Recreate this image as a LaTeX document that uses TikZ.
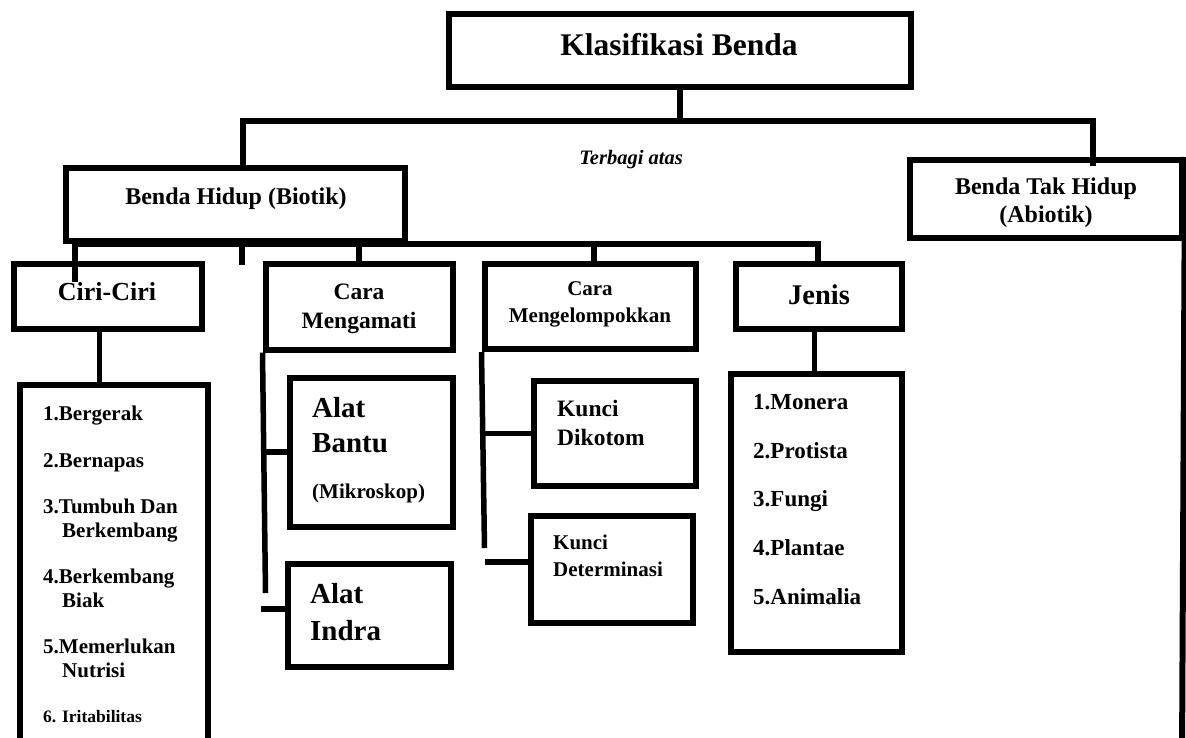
\documentclass[tikz,border=0pt]{standalone}
\usepackage{fontspec}
\setmainfont{Liberation Serif}
\newcommand{\fsz}[2]{\fontsize{#1}{#2}\selectfont}

\begin{document}
\begin{tikzpicture}[
  x=1pt, y=-1pt,
  box/.style={draw, line width=6pt, inner sep=0pt},
  wire/.style={line width=5.5pt},
  txt/.style={inner sep=0pt, align=left},
  ctr/.style={inner sep=0pt, align=center}
]
\useasboundingbox (0,0) rectangle (1186,737);
\fill[white] (0,0) rectangle (1186,737);
\clip (0,0) rectangle (1186,737);

% ====================== KLASIFIKASI ======================
\node[box, minimum width=462, minimum height=73] (title) at (680,50) {};
\node[ctr, font=\bfseries\fsz{31.5}{36}] (t-title) at (679,45) {Klasifikasi Benda};
\node[ctr, font=\bfseries\itshape\fsz{20.5}{24}] (t-bagi) at (631,160) {Terbagi atas};

% ====================== BIOTIK / ABIOTIK ======================
\node[box, minimum width=339, minimum height=73] (biotik) at (235.5,204.5) {};
\node[ctr, font=\bfseries\fsz{24}{28}] (t-biotik) at (236,199) {Benda Hidup (Biotik)};
\node[box, minimum width=272, minimum height=77.5] (abiotik) at (1046,198.75) {};
\node[ctr, font=\bfseries\fsz{24}{28}] (t-abiotik) at (1046,203) {Benda Tak Hidup\\(Abiotik)};

% ====================== CIRI-CIRI ======================
\node[box, minimum width=187.5, minimum height=65] (ciri) at (107.75,296.5) {};
\node[ctr, font=\bfseries\fsz{26}{30}] (t-ciri) at (107,292) {Ciri-Ciri};
\node[box, minimum width=187.5, minimum height=375] (ciriList) at (113.75,572.5) {};
\node[txt, anchor=north west, font=\bfseries\fsz{21}{24}] (t-ciriList) at (43,405.5)
  {1.Bergerak\\[23pt]2.Bernapas\\[22pt]3.Tumbuh Dan\\\hspace*{19pt}Berkembang\\[22pt]%
   4.Berkembang\\\hspace*{19pt}Biak\\[22pt]5.Memerlukan\\\hspace*{19pt}Nutrisi\\[21pt]%
   {\fsz{17.5}{24}6. Iritabilitas}};

% ====================== CARA MENGAMATI ======================
\node[box, minimum width=187, minimum height=85.5] (mengamati) at (359,306.75) {};
\node[ctr, font=\bfseries\fsz{23.5}{29}] (t-mengamati) at (359,308.5) {Cara\\Mengamati};
\node[box, minimum width=163, minimum height=149] (bantu) at (371,452) {};
\node[txt, anchor=north west, font=\bfseries\fsz{29}{35}] (t-bantu) at (312,396.8) {Alat\\Bantu};
\node[txt, anchor=west, font=\bfseries\fsz{21}{24}] (t-mikro) at (312,493) {(Mikroskop)};
\node[box, minimum width=163.5, minimum height=103] (indra) at (369.25,615) {};
\node[txt, anchor=north west, font=\bfseries\fsz{29}{37}] (t-indra) at (310,583) {Alat\\Indra};

% ====================== CARA MENGELOMPOKKAN ======================
\node[box, minimum width=211.5, minimum height=85] (kelompok) at (590.25,306.5) {};
\node[ctr, font=\bfseries\fsz{21}{27}] (t-kelompok) at (590,304.4) {Cara\\Mengelompokkan};
\node[box, minimum width=162, minimum height=105.5] (dikotom) at (615,433.25) {};
\node[txt, anchor=north west, font=\bfseries\fsz{23.5}{29}] (t-dikotom) at (557,399.7) {Kunci\\Dikotom};
\node[box, minimum width=162.5, minimum height=107] (determinasi) at (611.75,569.5) {};
\node[txt, anchor=north west, font=\bfseries\fsz{21}{27}] (t-determinasi) at (553,534.6) {Kunci\\Determinasi};

% ====================== JENIS ======================
\node[box, minimum width=166.5, minimum height=65] (jenis) at (818.75,296.5) {};
\node[ctr, font=\bfseries\fsz{28.5}{32}] (t-jenis) at (819,295) {Jenis};
\node[box, minimum width=171, minimum height=278] (jenisList) at (816.5,513) {};
\node[txt, anchor=north west, font=\bfseries\fsz{23}{48.75}] (t-jenisList) at (753,394)
  {1.Monera\\2.Protista\\3.Fungi\\4.Plantae\\5.Animalia};

% ====================== GARIS ======================
\coordinate (busL) at (243,121);
\coordinate (busR) at (1093,121);
\coordinate (abIn) at (1093,166);
\coordinate (edgeEnd) at (1182,760);
\draw[wire] (title.south) -- (title.south |- busL);
\draw[wire] (busL |- biotik.north) -- (busL) -- (busR) -- (abIn);
\draw[wire, line width=6pt] (abiotik.north east) -- (edgeEnd);

\coordinate (lowL) at (75,244);
\coordinate (lowR) at (818,244);
\coordinate (ciriIn) at (75,282);
\coordinate (stub) at (242,265);
\coordinate (kgTop) at (594,244);
\draw[wire] (ciriIn) -- (lowL) -- (lowR) -- (lowR |- jenis.north);
\draw[wire] (stub |- lowL) -- (stub);
\draw[wire] (mengamati.north) -- (mengamati.north |- lowL);
\draw[wire] (kgTop) -- (kgTop |- kelompok.north);

\coordinate (ciriDrop) at (99.5,0);
\draw[wire] (ciri.south -| ciriDrop) -- (ciriList.north -| ciriDrop);

\coordinate (mgEnd) at (265.5,593);
\coordinate (inStub) at (261,609);
\draw[wire] (mengamati.south west) -- (mgEnd);
\draw[wire] (mengamati.south west |- bantu.west) -- (bantu.west);
\draw[wire] (inStub) -- (inStub -| indra.west);

\coordinate (kgEnd) at (484.5,548);
\coordinate (detStub) at (485,562);
\draw[wire] (kelompok.south west) -- (kgEnd);
\draw[wire] (kelompok.south west |- dikotom.west) -- (dikotom.west);
\draw[wire] (detStub) -- (detStub -| determinasi.west);

\coordinate (jnDrop) at (814.5,0);
\draw[wire] (jenis.south -| jnDrop) -- (jenisList.north -| jnDrop);
\end{tikzpicture}
\end{document}
